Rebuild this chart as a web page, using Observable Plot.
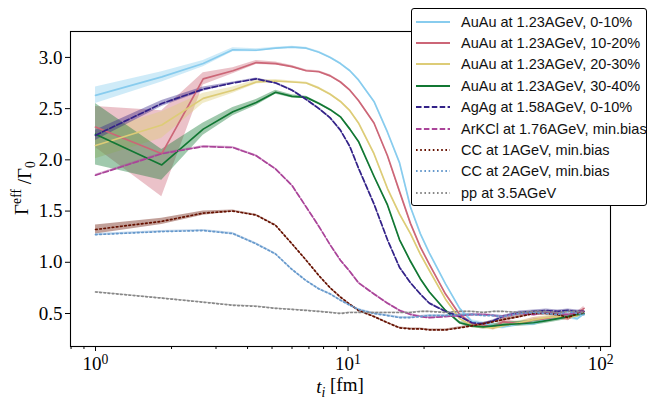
<!DOCTYPE html>
<html><head><meta charset="utf-8">
<script src="https://cdn.jsdelivr.net/npm/d3@7"></script>
<script src="https://cdn.jsdelivr.net/npm/@observablehq/plot@0.6"></script>
<style>
body{margin:0;background:#fff;}
#wrap{position:relative;width:648px;height:400px;overflow:hidden;}
#legbox{position:absolute;left:411px;top:8px;width:236px;height:198px;border:1.5px solid #000;border-radius:3px;background:#fff;box-sizing:border-box;}
.row{position:absolute;left:416px;height:20px;display:flex;align-items:center;font-family:"Liberation Sans",sans-serif;font-size:14.5px;color:#111;white-space:nowrap;}
.row svg{margin-right:11px;}
</style></head><body><div id="wrap"></div>
<script>
// shared time grid t_i [fm]
const t = [1, 1.83, 2.67, 3.5, 4.33, 5.17, 6, 6.83, 7.67, 8.5, 9.33, 10.17, 11, 12.67, 14.33, 16, 17.67, 19.33, 21, 24.33, 27.67, 31, 34.33, 37.67, 41, 47.67, 54.33, 61, 67.67, 74.33, 81, 86];

const labels = ["AuAu at 1.23AGeV, 0-10%", "AuAu at 1.23AGeV, 10-20%", "AuAu at 1.23AGeV, 20-30%", "AuAu at 1.23AGeV, 30-40%",
  "AgAg at 1.58AGeV, 0-10%", "ArKCl at 1.76AGeV, min.bias", "CC at 1AGeV, min.bias", "CC at 2AGeV, min.bias", "pp at 3.5AGeV"];
const colors = ["#88CCEE", "#CC6677", "#DDCC77", "#117733", "#332288", "#AA4499", "#661100", "#6699CC", "#888888"];
const styles = ["solid", "solid", "solid", "solid", "dashed", "dashed", "dotted", "dotted", "dotted"];

// Gamma_eff / Gamma_0 values
const auau010 = [2.63, 2.81, 2.94, 3.075, 3.07, 3.09, 3.10, 3.09, 3.05, 3.00, 2.94, 2.87, 2.78, 2.57, 2.27, 1.97, 1.54, 1.28, 1.09, 0.79, 0.55, 0.42, 0.40, 0.38, 0.37, 0.40, 0.40, 0.44, 0.47, 0.47, 0.45, 0.50];
const auau1020 = [2.32, 2.06, 2.79, 2.87, 2.95, 2.94, 2.91, 2.87, 2.86, 2.82, 2.76, 2.68, 2.58, 2.36, 2.04, 1.69, 1.38, 1.15, 0.98, 0.69, 0.49, 0.40, 0.39, 0.36, 0.42, 0.40, 0.44, 0.45, 0.47, 0.45, 0.50, 0.55];
const auau2030 = [2.14, 2.34, 2.60, 2.68, 2.76, 2.77, 2.76, 2.75, 2.70, 2.64, 2.57, 2.48, 2.36, 2.06, 1.72, 1.47, 1.28, 1.08, 0.92, 0.64, 0.45, 0.38, 0.37, 0.36, 0.38, 0.41, 0.44, 0.46, 0.47, 0.46, 0.48, 0.52];
const auau3040 = [2.25, 1.95, 2.30, 2.47, 2.56, 2.66, 2.62, 2.61, 2.55, 2.49, 2.42, 2.30, 2.18, 1.84, 1.56, 1.22, 1.01, 0.84, 0.71, 0.53, 0.41, 0.38, 0.37, 0.38, 0.39, 0.40, 0.41, 0.43, 0.45, 0.47, 0.49, 0.50];
const agag010 = [2.24, 2.55, 2.69, 2.75, 2.79, 2.75, 2.68, 2.59, 2.50, 2.41, 2.29, 2.13, 1.92, 1.57, 1.22, 0.95, 0.80, 0.69, 0.60, 0.52, 0.47, 0.41, 0.40, 0.43, 0.47, 0.51, 0.52, 0.53, 0.52, 0.53, 0.52, 0.52];
const arkcl = [1.85, 2.06, 2.13, 2.12, 2.04, 1.91, 1.75, 1.54, 1.35, 1.17, 1.02, 0.91, 0.80, 0.69, 0.60, 0.53, 0.49, 0.47, 0.46, 0.47, 0.48, 0.49, 0.49, 0.48, 0.47, 0.50, 0.49, 0.51, 0.50, 0.49, 0.51, 0.52];
const cc1 = [1.32, 1.40, 1.48, 1.50, 1.46, 1.36, 1.18, 1.02, 0.87, 0.75, 0.66, 0.59, 0.53, 0.47, 0.41, 0.36, 0.35, 0.35, 0.34, 0.34, 0.36, 0.38, 0.40, 0.42, 0.44, 0.47, 0.50, 0.50, 0.49, 0.46, 0.50, 0.51];
const cc2 = [1.27, 1.30, 1.31, 1.28, 1.18, 1.08, 0.93, 0.82, 0.74, 0.69, 0.63, 0.58, 0.54, 0.50, 0.48, 0.46, 0.46, 0.47, 0.48, 0.48, 0.49, 0.49, 0.48, 0.48, 0.47, 0.50, 0.51, 0.50, 0.49, 0.52, 0.50, 0.49];
const pp = [0.71, 0.65, 0.61, 0.58, 0.57, 0.55, 0.54, 0.53, 0.52, 0.51, 0.50, 0.51, 0.51, 0.51, 0.51, 0.51, 0.51, 0.52, 0.52, 0.51, 0.52, 0.52, 0.51, 0.52, 0.52, 0.51, 0.52, 0.52, 0.51, 0.52, 0.52, 0.51];

// uncertainty half-widths (bands)
const errAuau010 = [0.08, 0.05, 0.03, 0.02, 0.015, 0.01, 0.01, 0.01, 0.01, 0.01, 0.01, 0.01, 0.01, 0.01, 0.01, 0.01, 0.01, 0.01, 0.01, 0.01, 0.01, 0.02, 0.02, 0.02, 0.02, 0.02, 0.02, 0.02, 0.02, 0.02, 0.02, 0.02];
const errAuau1020 = [0.20, 0.42, 0.06, 0.03, 0.02, 0.015, 0.01, 0.01, 0.01, 0.01, 0.01, 0.01, 0.01, 0.01, 0.01, 0.01, 0.01, 0.01, 0.01, 0.01, 0.01, 0.02, 0.02, 0.02, 0.02, 0.02, 0.02, 0.02, 0.02, 0.02, 0.02, 0.02];
const errAuau2030 = [0.13, 0.13, 0.05, 0.03, 0.02, 0.015, 0.01, 0.01, 0.01, 0.01, 0.01, 0.01, 0.01, 0.01, 0.01, 0.01, 0.01, 0.01, 0.01, 0.01, 0.01, 0.02, 0.02, 0.02, 0.02, 0.02, 0.02, 0.02, 0.02, 0.02, 0.02, 0.02];
const errAuau3040 = [0.30, 0.15, 0.06, 0.04, 0.03, 0.02, 0.015, 0.01, 0.01, 0.01, 0.01, 0.01, 0.01, 0.01, 0.01, 0.01, 0.01, 0.01, 0.01, 0.01, 0.015, 0.02, 0.02, 0.02, 0.025, 0.025, 0.025, 0.025, 0.025, 0.025, 0.025, 0.025];
const errAgag010 = [0.05, 0.03, 0.02, 0.01, 0.01, 0.01, 0.01, 0.01, 0.01, 0.01, 0.01, 0.01, 0.01, 0.01, 0.01, 0.01, 0.01, 0.01, 0.01, 0.01, 0.01, 0.01, 0.01, 0.01, 0.01, 0.015, 0.015, 0.015, 0.015, 0.015, 0.015, 0.015];
const errArkcl = [0.01, 0.01, 0.01, 0.01, 0.01, 0.01, 0.01, 0.01, 0.01, 0.01, 0.01, 0.01, 0.01, 0.01, 0.01, 0.01, 0.01, 0.01, 0.01, 0.01, 0.01, 0.01, 0.01, 0.01, 0.01, 0.01, 0.01, 0.01, 0.01, 0.01, 0.01, 0.01];
const errCc1 = [0.045, 0.03, 0.02, 0.01, 0.008, 0.008, 0.008, 0.008, 0.008, 0.008, 0.008, 0.008, 0.008, 0.008, 0.008, 0.008, 0.008, 0.008, 0.008, 0.01, 0.01, 0.012, 0.012, 0.012, 0.015, 0.015, 0.015, 0.015, 0.015, 0.015, 0.015, 0.015];
const errCc2 = [0.01, 0.01, 0.01, 0.01, 0.01, 0.01, 0.01, 0.01, 0.01, 0.01, 0.01, 0.01, 0.01, 0.01, 0.01, 0.01, 0.01, 0.01, 0.01, 0.01, 0.01, 0.01, 0.01, 0.01, 0.01, 0.01, 0.01, 0.01, 0.01, 0.01, 0.01, 0.01];
const errPp = [0.005, 0.005, 0.005, 0.005, 0.005, 0.005, 0.005, 0.005, 0.005, 0.005, 0.005, 0.005, 0.005, 0.005, 0.005, 0.005, 0.005, 0.005, 0.005, 0.005, 0.005, 0.005, 0.005, 0.005, 0.005, 0.005, 0.005, 0.005, 0.005, 0.005, 0.005, 0.005];

const xMajor = [1, 10, 100];
const xMinor = [0.8, 0.9, 2, 3, 4, 5, 6, 7, 8, 9, 20, 30, 40, 50, 60, 70, 80, 90];
const yTicks = [0.5, 1.0, 1.5, 2.0, 2.5, 3.0];

const values = [auau010, auau1020, auau2030, auau3040, agag010, arkcl, cc1, cc2, pp];
const errs = [errAuau010, errAuau1020, errAuau2030, errAuau3040, errAgag010, errArkcl, errCc1, errCc2, errPp];
const dashFor = {solid: null, dashed: "5.5,2.4", dotted: "1.6,2.6"};

const tables = values.map((v, k) => t.map((tt, j) => ({t: tt, v: v[j], lo: v[j] - errs[k][j], hi: v[j] + errs[k][j]})));

const marks = [];
tables.forEach((d, k) => marks.push(Plot.areaY(d, {x: "t", y1: "lo", y2: "hi", fill: colors[k], fillOpacity: 0.4})));
tables.forEach((d, k) => marks.push(Plot.line(d, {x: "t", y: "v", stroke: colors[k], strokeWidth: 1.7, strokeDasharray: dashFor[styles[k]]})));
marks.push(Plot.axisX(xMinor, {tickSize: 3, text: null, label: null, stroke: "#000"}));
marks.push(Plot.axisX({ticks: xMajor, tickSize: 5, tickPadding: 5, tickFormat: d => String(Math.round(Math.log10(d))), label: null}));
marks.push(Plot.axisY({ticks: yTicks, tickSize: 5, tickPadding: 3, tickFormat: d3.format(".1f"), label: null}));
marks.push(Plot.frame({stroke: "#000", strokeWidth: 1.1}));

const chart = Plot.plot({
  width: 648, height: 400,
  marginLeft: 70, marginRight: 38, marginTop: 31, marginBottom: 54,
  style: {fontFamily: "'Liberation Serif', serif", fontSize: "19px", color: "#000", background: "#fff"},
  x: {type: "log", domain: [0.796, 109.5], label: null},
  y: {domain: [0.178, 3.253], label: null},
  marks
});

const wrap = document.getElementById("wrap");
wrap.appendChild(chart);
const svg = d3.select(chart);

// x tick labels as 10^n (only the major labels carry text)
svg.selectAll('g[aria-label="x-axis tick label"] text').each(function() {
  const e = this.textContent;
  if (!e || !e.trim()) { d3.select(this).remove(); return; }
  const s = d3.select(this);
  s.text("10");
  s.append("tspan").attr("dy", "-0.45em").attr("font-size", "0.72em").text(e);
});

// axis labels
const xl = svg.append("text").attr("x", 340).attr("y", 393).attr("text-anchor", "middle")
  .attr("font-family", "'Liberation Serif', serif").attr("font-size", 19);
xl.append("tspan").attr("font-style", "italic").text("t");
xl.append("tspan").attr("font-style", "italic").attr("font-size", "0.72em").attr("dy", "0.3em").text("i");
xl.append("tspan").attr("dy", "-0.3em").text(" [fm]");

const yl = svg.append("text").attr("transform", "translate(28,188) rotate(-90)").attr("text-anchor", "middle")
  .attr("font-family", "'Liberation Serif', serif").attr("font-size", 19);
yl.append("tspan").text("Γ");
yl.append("tspan").attr("font-size", "0.72em").attr("dy", "-0.5em").text("eff");
yl.append("tspan").attr("dy", "0.5em").text(" /Γ");
yl.append("tspan").attr("font-size", "0.72em").attr("dy", "0.3em").text("0");

// legend
const box = document.createElement("div");
box.id = "legbox";
wrap.appendChild(box);
labels.forEach((lab, k) => {
  const row = document.createElement("div");
  row.className = "row";
  row.style.top = (11.5 + k * 21.4) + "px";
  const dash = dashFor[styles[k]];
  row.innerHTML = `<svg width="34" height="6"><line x1="0" x2="34" y1="3" y2="3" stroke="${colors[k]}" stroke-width="2.2" ${dash ? `stroke-dasharray="${dash}"` : ""}/></svg><span>${lab}</span>`;
  wrap.appendChild(row);
});
</script></body></html>
